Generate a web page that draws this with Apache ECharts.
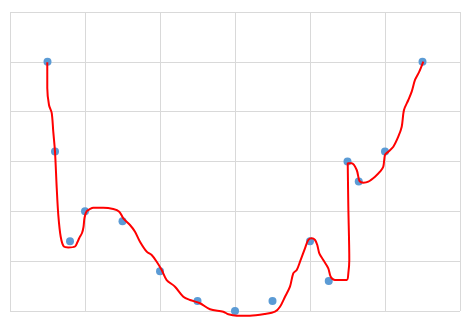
<!DOCTYPE html>
<html><head><meta charset="utf-8">
<script src="https://cdn.jsdelivr.net/npm/echarts@6/dist/echarts.min.js"></script>
<style>html,body{margin:0;padding:0;background:#fff}#c{width:471px;height:319px}</style>
</head><body><div id="c"></div>
<script>
var pointsX = [0.5, 0.6, 0.8, 1.0, 1.5, 2.0, 2.5, 3.0, 3.5, 4.0, 4.25, 4.5, 4.65, 5.0, 5.5];
var pointsY = [5.0, 3.2, 1.4, 2.0, 1.8, 0.8, 0.2, 0.0, 0.2, 1.4, 0.6, 3.0, 2.6, 3.2, 5.0];
var curveX = [0.497,0.497,0.52,0.556,0.577,0.6,0.623,0.644,0.676,0.72,0.777,0.867,0.9,0.924,0.96,0.98,0.993,1.02,1.067,1.111,1.244,1.377,1.457,1.511,1.6,1.667,1.733,1.823,1.889,1.956,2.023,2.089,2.2,2.311,2.4,2.533,2.667,2.844,2.911,3.023,3.2,3.4,3.533,3.6,3.667,3.733,3.777,3.823,3.867,3.933,3.977,4.023,4.067,4.097,4.124,4.177,4.244,4.276,4.333,4.489,4.511,4.524,4.511,4.503,4.556,4.623,4.66,4.711,4.777,4.867,4.933,4.977,5.0,5.044,5.111,5.177,5.223,5.253,5.311,5.356,5.4,5.457,5.511];
var curveY = [4.99,4.475,4.134,3.974,3.598,3.197,2.468,1.927,1.491,1.29,1.274,1.294,1.385,1.465,1.565,1.686,1.866,1.997,2.047,2.073,2.073,2.047,1.993,1.86,1.726,1.591,1.391,1.19,1.124,0.989,0.823,0.622,0.488,0.287,0.221,0.155,0.034,-0.014,-0.066,-0.094,-0.094,-0.06,-0.014,0.086,0.287,0.488,0.757,0.823,0.989,1.258,1.425,1.459,1.425,1.325,1.158,1.023,0.857,0.688,0.622,0.622,0.757,1.023,2.093,2.964,2.964,2.83,2.609,2.575,2.595,2.695,2.795,2.896,3.131,3.197,3.297,3.498,3.699,4.034,4.234,4.401,4.636,4.802,5.003];

var chart = echarts.init(document.getElementById('c'), null, {renderer: 'canvas'});
var axisCommon = {
  type: 'value', min: 0, max: 6, interval: 1,
  axisLine: {show: false}, axisTick: {show: false}, axisLabel: {show: false},
  splitLine: {show: true, lineStyle: {color: '#d9d9d9', width: 1}}
};
chart.setOption({
  animation: false,
  grid: {left: 10, right: 11, top: 12, bottom: 8, containLabel: false},
  xAxis: axisCommon,
  yAxis: axisCommon,
  series: [
    {
      type: 'scatter', symbolSize: 8,
      itemStyle: {color: '#5b9bd5', opacity: 1},
      data: pointsX.map(function(x, i){ return [x, pointsY[i]]; }),
      z: 2
    },
    {
      type: 'line', showSymbol: false, symbol: 'none', clip: false,
      smooth: 0.3,
      lineStyle: {color: '#ff0000', width: 2},
      data: curveX.map(function(x, i){ return [x, curveY[i]]; }),
      z: 3
    }
  ]
});
</script></body></html>
